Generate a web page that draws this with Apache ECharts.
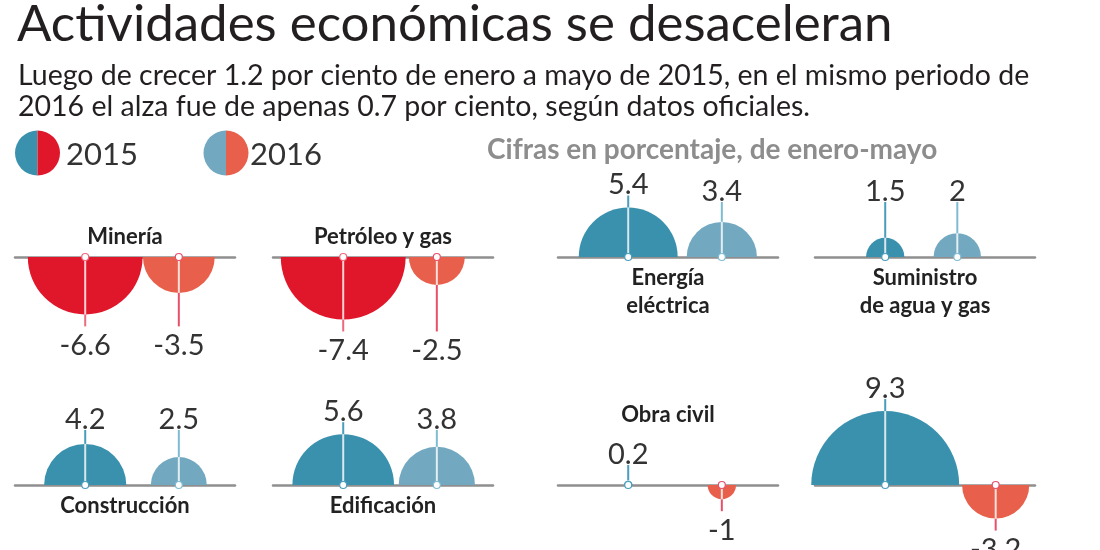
<!DOCTYPE html>
<html>
<head>
<meta charset="utf-8">
<script src="https://cdn.jsdelivr.net/npm/echarts@6/dist/echarts.min.js"></script>
<style>
html, body { margin: 0; background: #fff; }
#chart { width: 1100px; height: 550px; }
</style>
</head>
<body>
<div id="chart"></div>
<script>
// datos: variación % enero-mayo
var sectores = ['Minería', 'Petróleo y gas', 'Energía\neléctrica', 'Suministro\nde agua y gas', 'Construcción', 'Edificación', 'Obra civil', ''];
var valores2015 = [-6.6, -7.4, 5.4, 1.5, 4.2, 5.6, 0.2, 9.3];
var valores2016 = [-3.5, -2.5, 3.4, 2, 2.5, 3.8, -1, -3.2];
var anios = ['2015', '2016'];

// disposición de los paneles
var colLeft = [15, 273, 558, 815];
var rowBase = [257, 485];
var panelW = 220;
var tituloArriba = [true, true, false, false, false, false, true, false];
var slot2016 = [1, 1, 1, 0.77, 1, 1, 1, 1.18];
var minTallo = [55, 55, 55, 55, 55, 55, 20, 55];

var FONT = 'Lato, "Open Sans", sans-serif';
var colPos = ['#3a91ad', '#72a9c0'];
var colNeg = ['#e0162b', '#e8604c'];
var talloPos = ['#4a9dbd', '#7ebcd3'];
var talloNeg = ['#ec6a7d', '#e8506a'];

function radio(v) {
	return 14.2 * Math.pow(Math.abs(v), 0.74);
}

// largo del tallo para cada barra del panel
function tallos(p) {
	var vals = [valores2015[p], valores2016[p]];
	var negMax = 0;
	vals.forEach(function (v) {
		if (v < 0) negMax = Math.max(negMax, radio(v) + 12);
	});
	return vals.map(function (v) {
		if (v < 0) return negMax;
		return Math.max(radio(v) + 12, minTallo[p]);
	});
}

function makeRender(p) {
	var largos = tallos(p);
	return function (params, api) {
		var i = params.dataIndex;
		var v = api.value(1);
		var base = api.coord([api.value(0), 0]);
		var r = radio(v);
		var pos = v >= 0;
		var dir = pos ? -1 : 1;
		var tip = base[1] + dir * largos[i];
		var borde = base[1] + dir * r;
		var fill = pos ? colPos[i] : colNeg[i];
		var tallo = pos ? talloPos[i] : talloNeg[i];
		return {
			type: 'group',
			children: [
				{
					type: 'sector',
					shape: {
						cx: base[0], cy: base[1], r0: 0, r: r,
						startAngle: pos ? Math.PI : 0,
						endAngle: pos ? Math.PI * 2 : Math.PI,
						clockwise: true
					},
					style: { fill: fill }
				},
				{
					type: 'line',
					shape: { x1: base[0], y1: borde, x2: base[0], y2: tip },
					style: { stroke: tallo, lineWidth: 2 }
				},
				{
					type: 'line',
					shape: { x1: base[0], y1: base[1], x2: base[0], y2: borde },
					style: { stroke: 'rgba(255,255,255,0.8)', lineWidth: 2 }
				},
				{
					type: 'circle',
					shape: { cx: base[0], cy: base[1], r: 3.5 },
					style: { fill: '#fff', stroke: tallo, lineWidth: 1.2 }
				},
				{
					type: 'text',
					style: {
						text: String(v),
						x: base[0],
						y: pos ? tip + 4 : tip + 5,
						align: 'center',
						verticalAlign: pos ? 'bottom' : 'top',
						font: '29px ' + FONT,
						fill: '#333'
					}
				}
			]
		};
	};
}

var grids = [], xAxes = [], yAxes = [], series = [];
var graphics = [];

sectores.forEach(function (nombre, p) {
	var col = p % 4, row = Math.floor(p / 4);
	var base = rowBase[row];
	grids.push({ left: colLeft[col], top: base - 40, width: panelW, height: 80 });
	xAxes.push({
		type: 'value', gridIndex: p, min: -0.75, max: 1.6,
		axisLine: { show: true, onZero: true, lineStyle: { color: '#8f8f8f', width: 2.5 } },
		axisTick: { show: false }, axisLabel: { show: false }, splitLine: { show: false }
	});
	yAxes.push({
		type: 'value', gridIndex: p, min: -1, max: 1, show: false,
		splitLine: { show: false }
	});
	series.push({
		type: 'custom',
		xAxisIndex: p, yAxisIndex: p,
		renderItem: makeRender(p),
		data: [[0, valores2015[p], anios[0]], [slot2016[p], valores2016[p], anios[1]]],
		silent: true
	});
	if (nombre) {
		graphics.push({
			type: 'text',
			x: colLeft[col] + panelW / 2,
			y: tituloArriba[p] ? (p == 6 ? base - 84 : base - 34) : base + 7,
			style: {
				text: nombre,
				font: 'bold 22px ' + FONT,
				fill: '#222',
				align: 'center',
				verticalAlign: 'top',
				lineHeight: 28
			}
		});
	}
});

// leyenda
function circuloLeyenda(cx, cy, c1, c2) {
	return [
		{ type: 'sector', shape: { cx: cx, cy: cy, r: 22.5, r0: 0, startAngle: Math.PI / 2, endAngle: Math.PI * 1.5 }, style: { fill: c1 } },
		{ type: 'sector', shape: { cx: cx, cy: cy, r: 22.5, r0: 0, startAngle: -Math.PI / 2, endAngle: Math.PI / 2 }, style: { fill: c2 } }
	];
}
graphics = graphics.concat(circuloLeyenda(37.5, 153, colPos[0], colNeg[0]));
graphics = graphics.concat(circuloLeyenda(226, 153, colPos[1], colNeg[1]));
graphics.push({ type: 'text', style: { text: anios[0], x: 66, y: 155, verticalAlign: 'middle', font: '31px ' + FONT, fill: '#333' } });
graphics.push({ type: 'text', style: { text: anios[1], x: 250, y: 155, verticalAlign: 'middle', font: '31px ' + FONT, fill: '#333' } });
graphics.push({ type: 'text', style: { text: 'Cifras en porcentaje, de enero-mayo', x: 487, y: 150, verticalAlign: 'middle', font: 'bold 28px ' + FONT, fill: '#8d8d8d' } });

var option = {
	backgroundColor: '#fff',
	animation: false,
	title: [
		{
			text: 'Actividades económicas se desaceleran',
			left: 12, top: -6,
			textStyle: { fontFamily: FONT, fontSize: 51, fontWeight: 'normal', color: '#231f20' }
		},
		{
			text: 'Luego de crecer 1.2 por ciento de enero a mayo de 2015, en el mismo periodo de\n2016 el alza fue de apenas 0.7 por ciento, según datos oficiales.',
			left: 13, top: 55,
			textStyle: { fontFamily: FONT, fontSize: 28.5, fontWeight: 'normal', color: '#231f20', lineHeight: 31 }
		}
	],
	grid: grids,
	xAxis: xAxes,
	yAxis: yAxes,
	series: series,
	graphic: graphics
};

var myChart = echarts.init(document.getElementById('chart'));
myChart.setOption(option);
</script>
</body>
</html>
